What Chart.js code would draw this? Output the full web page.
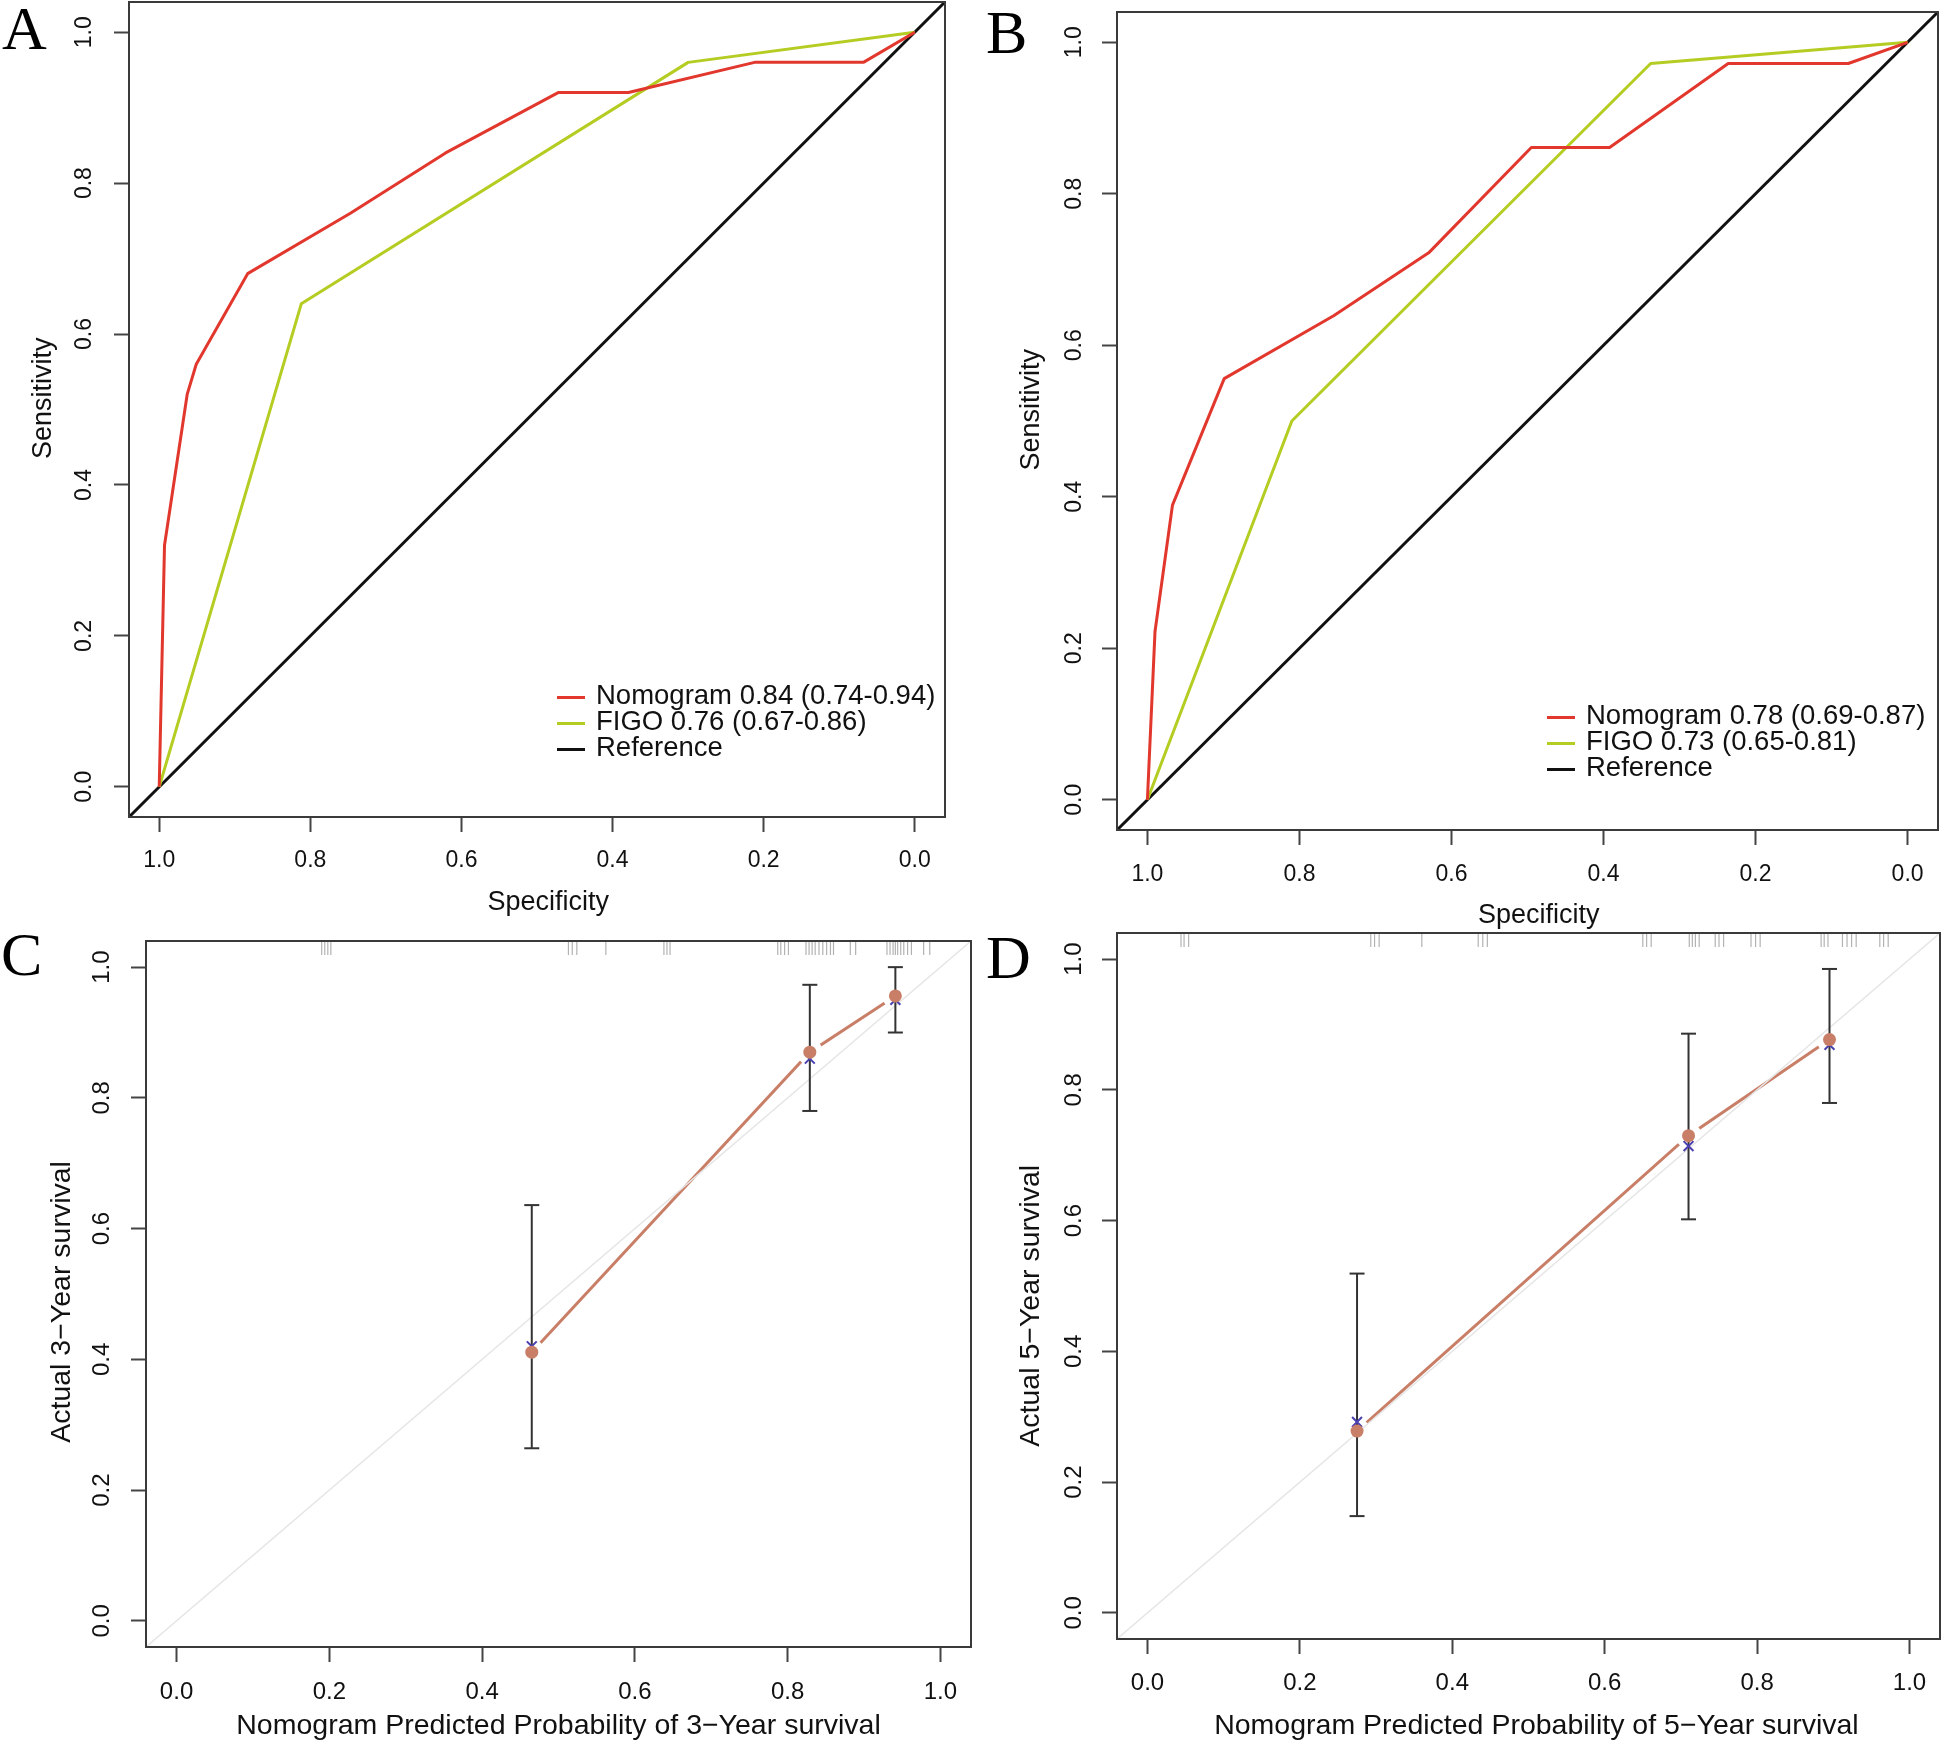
<!DOCTYPE html>
<html>
<head>
<meta charset="utf-8">
<script src="https://cdn.jsdelivr.net/npm/chart.js@4.4.1/dist/chart.umd.min.js"></script>
<style>
body { margin: 0; background: #fff; width: 1944px; height: 1746px; position: relative; overflow: hidden; font-family: "Liberation Sans", Arial, sans-serif; }
canvas { position: absolute; }
.tag { position: absolute; font-family: "Liberation Serif", "Times New Roman", serif; font-size: 62px; line-height: 62px; color: #000; }
.leg { position: absolute; font-size: 27.5px; color: #111; white-space: nowrap; }
.leg div { display: flex; align-items: center; height: 26px; }
.leg .sw { display: inline-block; width: 28px; height: 3px; margin-right: 11px; position: relative; top: 2px; }
</style>
</head>
<body>
<div class="tag" style="left:2px;top:-3px">A</div>
<div class="tag" style="left:986px;top:1px">B</div>
<div class="tag" style="left:1px;top:923px">C</div>
<div class="tag" style="left:986px;top:926px">D</div>

<canvas id="cA" width="972" height="930" style="left:0;top:0"></canvas>
<canvas id="cB" width="972" height="945" style="left:972px;top:0"></canvas>
<canvas id="cC" width="972" height="816" style="left:0;top:930px"></canvas>
<canvas id="cD" width="972" height="816" style="left:972px;top:930px"></canvas>

<div class="leg" id="legA" style="left:557px;top:682px"></div>
<div class="leg" id="legB" style="left:1547px;top:702px"></div>

<script>
// axis range (R style 4% extension) and ticks
const axisLo = -0.04, axisHi = 1.04;
const tickVals = [0, 0.2, 0.4, 0.6, 0.8, 1.0];

// A - ROC, 3 year
const nomoSpecA = [1.0, 0.993, 0.963, 0.951, 0.883, 0.747, 0.621, 0.472, 0.379, 0.212, 0.068, 0.0];
const nomoSensA = [0.0, 0.32, 0.52, 0.56, 0.68, 0.76, 0.84, 0.92, 0.92, 0.96, 0.96, 1.0];
const figoSpecA = [1.0, 0.812, 0.300, 0.0];
const figoSensA = [0.0, 0.64, 0.96, 1.0];
const labelsA = ['Nomogram 0.84 (0.74-0.94)', 'FIGO 0.76 (0.67-0.86)', 'Reference'];

// B - ROC, 5 year
const nomoSpecB = [1.0, 0.990, 0.967, 0.899, 0.755, 0.630, 0.495, 0.392, 0.236, 0.078, 0.0];
const nomoSensB = [0.0, 0.222, 0.389, 0.556, 0.639, 0.722, 0.861, 0.861, 0.972, 0.972, 1.0];
const figoSpecB = [1.0, 0.810, 0.338, 0.0];
const figoSensB = [0.0, 0.50, 0.972, 1.0];
const labelsB = ['Nomogram 0.78 (0.69-0.87)', 'FIGO 0.73 (0.65-0.81)', 'Reference'];

// C - calibration, 3 year
const predC = [0.465, 0.829, 0.941];
const obsC  = [0.411, 0.870, 0.956];
const corrC = [0.420, 0.860, 0.950];
const loC   = [0.264, 0.780, 0.900];
const hiC   = [0.636, 0.973, 1.000];
const rugC  = [0.190, 0.194, 0.198, 0.202, 0.513, 0.518, 0.524, 0.562, 0.638, 0.642, 0.646,
               0.787, 0.791, 0.796, 0.801, 0.824, 0.828, 0.832, 0.836, 0.841, 0.846, 0.851, 0.856, 0.860,
               0.882, 0.889, 0.930, 0.934, 0.938, 0.941, 0.944, 0.948, 0.952, 0.957, 0.962, 0.978, 0.986];

// D - calibration, 5 year
const predD = [0.275, 0.710, 0.895];
const obsD  = [0.278, 0.730, 0.877];
const corrD = [0.292, 0.714, 0.869];
const loD   = [0.148, 0.602, 0.780];
const hiD   = [0.519, 0.886, 0.985];
const rugD  = [0.044, 0.048, 0.054, 0.293, 0.298, 0.304, 0.360, 0.434, 0.440, 0.446,
               0.650, 0.655, 0.661, 0.711, 0.715, 0.719, 0.724, 0.745, 0.750, 0.756,
               0.792, 0.798, 0.804, 0.884, 0.888, 0.893, 0.912, 0.918, 0.924, 0.930, 0.961, 0.966, 0.972];

const fam = '"Liberation Sans", Arial, Helvetica, sans-serif';
const red = '#e2372d', green = '#b5cc22', orange = '#c97f67', blue = '#4a3fb0';
const nb = n => '\u00a0'.repeat(n);

// frame around the plot region, like R's box()
const framePlugin = {
  id: 'frame',
  afterDraw(chart) {
    const a = chart.chartArea, ctx = chart.ctx;
    ctx.save();
    ctx.strokeStyle = '#3a3a3a';
    ctx.lineWidth = 2;
    ctx.strokeRect(a.left, a.top, a.right - a.left, a.bottom - a.top);
    ctx.restore();
  }
};

function axis(pos, title, L, reverse) {
  const left = pos === 'left';
  const o = {
    type: 'linear', position: pos, min: axisLo, max: axisHi, reverse: !!reverse,
    afterBuildTicks: s => { s.ticks = tickVals.map(v => ({value: v})); },
    afterFit: s => {
      if (left) s.width = L.box[0]; else s.height = L.h - L.box[3];
      s.paddingTop = 0; s.paddingBottom = 0; s.paddingLeft = 0; s.paddingRight = 0;
    },
    grid: {drawOnChartArea: false, drawTicks: true, tickLength: 15, tickWidth: 2, tickColor: '#444'},
    border: {display: false},
    ticks: {
      autoSkip: false, color: '#111', font: {size: L.tick, family: fam},
      padding: left ? L.yTickPad : L.xTickPad,
      callback: v => Number(v).toFixed(1)
    },
    title: {
      display: true, text: title, color: '#111', font: {size: L.titleSize, family: fam},
      padding: left ? {top: L.yTitlePad, bottom: 0} : {top: 0, bottom: L.xTitlePad}
    }
  };
  if (left) { o.ticks.minRotation = 90; o.ticks.maxRotation = 90; o.ticks.crossAlign = 'center'; }
  else { o.ticks.maxRotation = 0; }
  return o;
}

function baseOptions(L, xTitle, yTitle, reverseX) {
  return {
    responsive: false, animation: false, devicePixelRatio: 1,
    layout: {autoPadding: false, padding: {left: 0, top: L.box[1], right: L.w - L.box[2], bottom: 0}},
    plugins: {legend: {display: false}, tooltip: {enabled: false}},
    scales: {x: axis('bottom', xTitle, L, reverseX), y: axis('left', yTitle, L)}
  };
}

const zip = (xs, ys) => xs.map((x, i) => ({x: x, y: ys[i]}));

function rocChart(id, legId, L, nomoSpec, nomoSens, figoSpec, figoSens, labels) {
  const line = (label, data, color, order) => ({
    label: label, data: data, showLine: true, borderColor: color, backgroundColor: color,
    borderWidth: 3, pointRadius: 0, borderJoinStyle: 'round', order: order
  });
  const chart = new Chart(document.getElementById(id), {
    type: 'scatter',
    data: {datasets: [
      line(labels[0], zip(nomoSpec, nomoSens), red, 1),
      line(labels[1], zip(figoSpec, figoSens), green, 2),
      line(labels[2], [{x: axisHi, y: 1 - axisHi}, {x: axisLo, y: 1 - axisLo}], '#111', 3)
    ]},
    options: baseOptions(L, nb(3) + 'Specificity', nb(3) + 'Sensitivity', true),
    plugins: [framePlugin]
  });
  const el = document.getElementById(legId);
  chart.data.datasets.forEach(ds => {
    const row = document.createElement('div');
    const sw = document.createElement('span');
    sw.className = 'sw';
    sw.style.background = ds.borderColor;
    row.appendChild(sw);
    row.appendChild(document.createTextNode(ds.label));
    el.appendChild(row);
  });
  return chart;
}

function calChart(id, L, pred, obs, corr, lo, hi, rug, xTitle, yTitle) {
  const pts = zip(pred, obs);
  const bars = [];
  pred.forEach((x, i) => { bars.push({x: x, y: lo[i]}, {x: x, y: hi[i]}, {x: x, y: null}); });
  return new Chart(document.getElementById(id), {
    type: 'scatter',
    data: {datasets: [
      // ideal line
      {data: [{x: axisLo, y: axisLo}, {x: axisHi, y: axisHi}], showLine: true, borderColor: '#e6e6e6', borderWidth: 1.5, pointRadius: 0, order: 6},
      // apparent calibration line (type "b")
      {data: pts, showLine: true, borderColor: orange, borderWidth: 3, pointRadius: 0, order: 8},
      {data: pts, pointRadius: 6.5, pointBorderWidth: 13, pointBorderColor: '#fff', pointBackgroundColor: '#fff', order: 7},
      // 95% CI bars
      {data: bars, showLine: true, spanGaps: false, borderColor: '#333', borderWidth: 2, pointStyle: 'line', pointRadius: 7.5, pointBorderColor: '#333', pointBorderWidth: 2, order: 5},
      // bias-corrected
      {data: zip(pred, corr), pointStyle: 'crossRot', pointRadius: 7, pointBorderColor: blue, pointBackgroundColor: blue, pointBorderWidth: 2, order: 4},
      {data: pts, pointRadius: 6.5, pointBackgroundColor: orange, pointBorderColor: orange, pointBorderWidth: 0, order: 3},
      // rug of predictions
      {data: rug.map(x => ({x: x, y: axisHi})), pointStyle: 'line', pointRotation: 90, pointRadius: 14, pointBorderColor: 'rgba(0,0,0,0.3)', pointBorderWidth: 1.2, clip: 0, order: 2}
    ]},
    options: baseOptions(L, xTitle, yTitle, false),
    plugins: [framePlugin]
  });
}

const layA = {w: 972, h: 930, box: [129, 2, 945, 817], tick: 23, titleSize: 27, xTickPad: 15, yTickPad: 13, xTitlePad: 11, yTitlePad: 27};
const layB = {w: 972, h: 945, box: [145, 12, 966, 830], tick: 23, titleSize: 27, xTickPad: 16, yTickPad: 11, xTitlePad: 13, yTitlePad: 43};
const layC = {w: 972, h: 816, box: [146, 11, 971, 717], tick: 24, titleSize: 28.5, xTickPad: 16, yTickPad: 12, xTitlePad: 3, yTitlePad: 45};
const layD = {w: 972, h: 816, box: [145, 3, 968, 709], tick: 24, titleSize: 28.5, xTickPad: 15, yTickPad: 11, xTitlePad: 3, yTitlePad: 42};

rocChart('cA', 'legA', layA, nomoSpecA, nomoSensA, figoSpecA, figoSensA, labelsA);
rocChart('cB', 'legB', layB, nomoSpecB, nomoSensB, figoSpecB, figoSensB, labelsB);
calChart('cC', layC, predC, obsC, corrC, loC, hiC, rugC,
  'Nomogram Predicted Probability of 3\u2212Year survival', 'Actual 3\u2212Year survival' + nb(2));
calChart('cD', layD, predD, obsD, corrD, loD, hiD, rugD,
  nb(2) + 'Nomogram Predicted Probability of 5\u2212Year survival', 'Actual 5\u2212Year survival' + nb(5));
</script>
</body>
</html>
